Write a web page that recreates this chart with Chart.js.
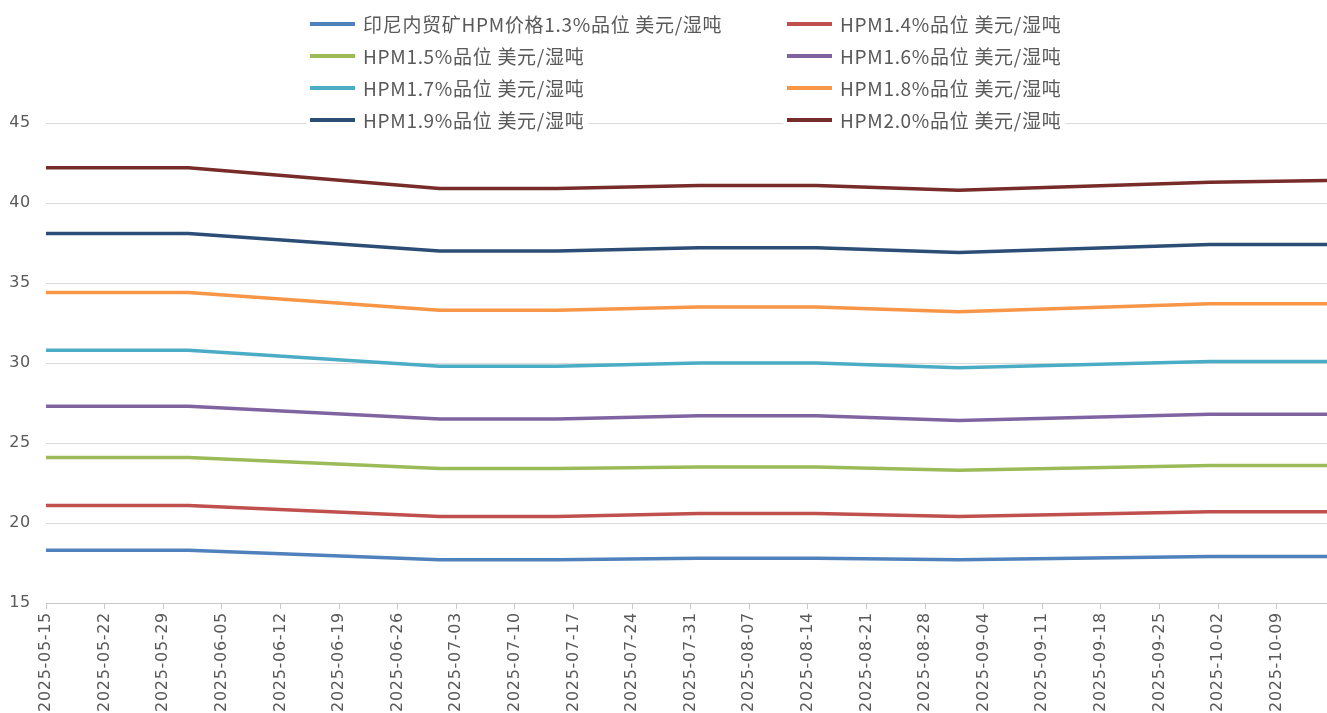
<!DOCTYPE html>
<html>
<head>
<meta charset="utf-8">
<script src="https://cdn.jsdelivr.net/npm/chart.js@4.4.1/dist/chart.umd.min.js"></script>
<style>
  html, body { margin: 0; padding: 0; background: #ffffff; }
  #wrap { width: 1327px; height: 713px; position: relative; }
</style>
</head>
<body>
<div id="wrap"><canvas id="c" width="1327" height="713"></canvas></div>
<script>
// ---- data ----
const dates = ['2025-05-15','2025-06-01','2025-07-01','2025-07-15','2025-08-01','2025-08-15','2025-09-01','2025-10-01','2025-10-15'];
const axisStart = '2025-05-15';
const axisEnd = '2025-10-15';
const seriesNames = [
  '印尼内贸矿HPM价格1.3%品位 美元/湿吨',
  'HPM1.4%品位 美元/湿吨',
  'HPM1.5%品位 美元/湿吨',
  'HPM1.6%品位 美元/湿吨',
  'HPM1.7%品位 美元/湿吨',
  'HPM1.8%品位 美元/湿吨',
  'HPM1.9%品位 美元/湿吨',
  'HPM2.0%品位 美元/湿吨'
];
const hpm13 = [18.3, 18.3, 17.7, 17.7, 17.8, 17.8, 17.7, 17.9, 17.9];
const hpm14 = [21.1, 21.1, 20.4, 20.4, 20.6, 20.6, 20.4, 20.7, 20.7];
const hpm15 = [24.1, 24.1, 23.4, 23.4, 23.5, 23.5, 23.3, 23.6, 23.6];
const hpm16 = [27.3, 27.3, 26.5, 26.5, 26.7, 26.7, 26.4, 26.8, 26.8];
const hpm17 = [30.8, 30.8, 29.8, 29.8, 30.0, 30.0, 29.7, 30.1, 30.1];
const hpm18 = [34.4, 34.4, 33.3, 33.3, 33.5, 33.5, 33.2, 33.7, 33.7];
const hpm19 = [38.1, 38.1, 37.0, 37.0, 37.2, 37.2, 36.9, 37.4, 37.4];
const hpm20 = [42.2, 42.2, 40.9, 40.9, 41.1, 41.1, 40.8, 41.3, 41.4];
const yTicks = [15, 20, 25, 30, 35, 40, 45];

// ---- styles ----
const colors = ['#4F81BD','#C0504D','#9BBB59','#8064A2','#4BACC6','#F79646','#2C4D75','#772C2A'];
const allSeries = [hpm13, hpm14, hpm15, hpm16, hpm17, hpm18, hpm19, hpm20];

const DAY = 86400000;
function utc(s) {
  const p = s.split('-').map(Number);
  return Date.UTC(p[0], p[1] - 1, p[2]);
}
function toDay(s) {
  return Math.round((utc(s) - utc(axisStart)) / DAY);
}
function fmtDay(n) {
  const d = new Date(utc(axisStart) + n * DAY);
  const mm = String(d.getUTCMonth() + 1).padStart(2, '0');
  const dd = String(d.getUTCDate()).padStart(2, '0');
  return d.getUTCFullYear() + '-' + mm + '-' + dd;
}
const xs = dates.map(toDay);

const datasets = allSeries.map((vals, i) => ({
  label: seriesNames[i],
  data: vals.map((v, j) => ({ x: xs[j], y: v })),
  borderColor: colors[i],
  backgroundColor: colors[i],
  borderWidth: 3.5,
  pointRadius: 0,
  tension: 0,
  fill: false,
  borderJoinStyle: 'round'
}));

const spacingPlugin = {
  id: 'labelSpacing',
  beforeDraw(chart) { chart.ctx.letterSpacing = '0.7px'; },
  beforeDatasetsDraw(chart) { chart.ctx.letterSpacing = '0px'; }
};

const legendPlugin = {
  id: 'twoColLegend',
  afterDraw(chart) {
    const ctx = chart.ctx;
    ctx.save();
    ctx.letterSpacing = '0.7px';
    ctx.font = '19px "Noto Sans CJK SC", "Noto Sans", sans-serif';
    ctx.textBaseline = 'middle';
    ctx.textAlign = 'left';
    chart.data.datasets.forEach((ds, i) => {
      const col = i % 2, row = Math.floor(i / 2);
      const x0 = col === 0 ? 310 : 787;
      const y = 24 + row * 32;
      const tw = ctx.measureText(ds.label).width;
      ctx.fillStyle = '#ffffff';
      ctx.fillRect(x0 - 4, y - 12, tw + 53 + 8, 24);
      ctx.strokeStyle = ds.borderColor;
      ctx.lineWidth = 4;
      ctx.beginPath();
      ctx.moveTo(x0, y);
      ctx.lineTo(x0 + 45, y);
      ctx.stroke();
      ctx.fillStyle = '#595959';
      ctx.fillText(ds.label, x0 + 53, y + 1);
    });
    ctx.restore();
    ctx.letterSpacing = '0px';
  }
};

new Chart(document.getElementById('c'), {
  type: 'line',
  data: { datasets },
  plugins: [spacingPlugin, legendPlugin],
  options: {
    responsive: false,
    animation: false,
    layout: { padding: { top: 123, right: 0, left: 0, bottom: 0 } },
    plugins: { legend: { display: false }, tooltip: { enabled: false } },
    scales: {
      x: {
        type: 'linear',
        min: toDay(axisStart),
        max: toDay(axisEnd),
        afterFit(s) { s.height = 110; },
        grid: { drawOnChartArea: false, drawTicks: true, tickLength: 6, color: '#C8C8C8' },
        border: { display: true, color: '#C8C8C8', width: 1 },
        ticks: {
          stepSize: 7,
          includeBounds: false,
          autoSkip: false,
          minRotation: 90,
          maxRotation: 90,
          padding: 3,
          color: '#595959',
          font: { family: '"DejaVu Sans", sans-serif', size: 16 },
          callback: (v) => fmtDay(v)
        }
      },
      y: {
        min: yTicks[0],
        max: yTicks[yTicks.length - 1],
        afterFit(s) { s.width = 46; },
        afterBuildTicks(s) { s.ticks = yTicks.map(v => ({ value: v })); },
        grid: { color: '#D9D9D9', drawTicks: false, lineWidth: 1 },
        border: { display: false },
        ticks: {
          padding: 15,
          color: '#595959',
          font: { family: '"DejaVu Sans", sans-serif', size: 16 }
        }
      }
    }
  }
});
</script>
</body>
</html>
